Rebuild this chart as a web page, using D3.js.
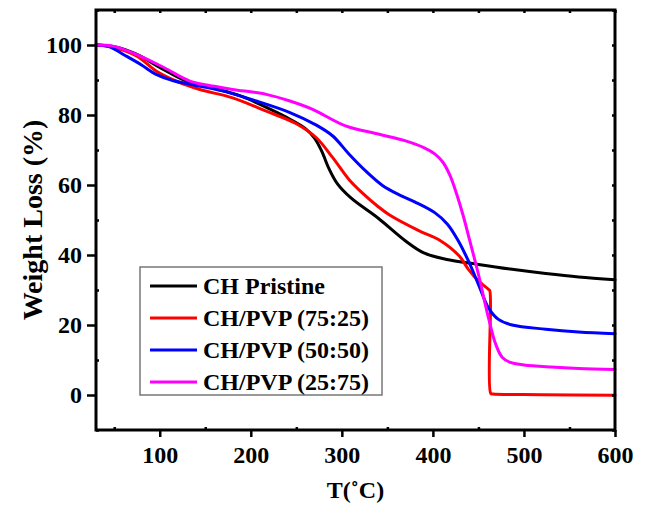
<!DOCTYPE html>
<html><head><meta charset="utf-8">
<script src="https://cdn.jsdelivr.net/npm/d3@7"></script>
<style>
html,body{margin:0;padding:0;background:#fff;}
svg{display:block;}
text{font-family:"Liberation Serif","Times New Roman",serif;font-weight:bold;fill:#000;}
</style></head>
<body>
<script>
// ---------- data ----------
const seriesNames = ["CH Pristine", "CH/PVP (75:25)", "CH/PVP (50:50)", "CH/PVP (25:75)"];
const seriesColors = ["#000000", "#ff0000", "#0000ff", "#ff00ff"];

const chT = [30, 50, 75, 100, 130, 160, 190, 220, 245, 260, 270, 278, 286, 295, 310, 340, 370, 390, 414, 450, 487, 524, 560, 600];
const chW = [100, 99.5, 97.3, 93.6, 89.6, 87.6, 85.3, 81.8, 78.5, 76.1, 73.4, 69.6, 64.6, 60.4, 56.3, 50.5, 44, 40.6, 38.8, 37.3, 35.9, 34.7, 33.7, 32.9];

const p7525T = [30, 50, 75, 96, 120, 144, 180, 217, 250, 272, 290, 308, 323, 339, 352, 385, 407, 429, 439, 450, 461, 462.5, 463.5, 466, 520, 600];
const p7525W = [100, 99.3, 96.8, 92.6, 89.5, 87.3, 84.9, 81.1, 77.5, 73.5, 67.8, 61.5, 57.6, 54, 51.5, 46.9, 44.3, 39.7, 35.9, 32.6, 30.2, 29.8, 0.5, 0.3, 0.1, -0.1];

const p5050T = [30, 45, 60, 80, 96, 115, 133, 169, 206, 243, 272, 290, 308, 327, 345, 363, 380, 402, 416, 428, 439, 450, 461, 472, 487, 524, 560, 600];
const p5050W = [100, 99.5, 97.3, 94.3, 91.6, 89.8, 88.8, 86.9, 84, 80.7, 77.1, 74, 68.8, 63.8, 59.8, 57.2, 55.2, 52.1, 48.8, 44, 38.3, 31.6, 24.9, 21.6, 20, 18.8, 18, 17.5];

const p2575T = [30, 50, 78, 105, 133, 160, 180, 217, 243, 268, 304, 341, 370, 390, 402, 411, 419, 426, 433, 441, 450, 461, 469, 476, 485, 500, 530, 560, 600];
const p2575W = [100, 99.6, 96.9, 93.5, 89.7, 88.2, 87.3, 85.9, 84, 81.6, 76.9, 74.5, 72.6, 70.7, 68.9, 66.5, 62.6, 57.5, 51.5, 43.6, 34.5, 22.1, 14.5, 10.8, 9.3, 8.6, 8.0, 7.6, 7.3];

const xMajorTicks = [100, 200, 300, 400, 500, 600];
const xMinorTicks = [50, 150, 250, 350, 450, 550];
const yMajorTicks = [0, 20, 40, 60, 80, 100];
const yMinorTicks = [-10, 10, 30, 50, 70, 90, 110];
const xTitle = "T(˚C)";
const yTitle = "Weight Loss (%)";

// ---------- chart ----------
const W = 648, H = 505;
const L = 96, R = 615, T = 10, B = 430;
const svg = d3.select("body").append("svg").attr("width", W).attr("height", H);

const x = d3.scaleLinear().domain([30, 600]).range([L, R]);
const y = d3.scaleLinear().domain([-10, 110]).range([B, T]);

const series = [
  {T: chT, W: chW}, {T: p7525T, W: p7525W}, {T: p5050T, W: p5050W}, {T: p2575T, W: p2575W}
];

const line = d3.line().x(d => x(d[0])).y(d => y(d[1])).curve(d3.curveCatmullRom.alpha(0.5));

const plot = svg.append("g");
series.forEach((s, i) => {
  const pts = s.T.map((t, k) => [t, s.W[k]]);
  plot.append("path").datum(pts)
    .attr("d", line).attr("fill", "none")
    .attr("stroke", seriesColors[i]).attr("stroke-width", 3)
    .attr("stroke-linejoin", "round").attr("stroke-linecap", "round");
});

// axes
function styleAxis(g) {
  g.select(".domain").remove();
  g.selectAll(".tick line").attr("stroke", "#000").attr("stroke-width", 2.5);
  g.selectAll(".tick text").style("font-size", "24px").style("font-family", "Liberation Serif").style("font-weight", "bold");
}
const gx = svg.append("g").attr("transform", `translate(0,${B})`)
  .call(d3.axisBottom(x).tickValues(xMajorTicks).tickSize(7).tickPadding(9).tickFormat(d3.format("d")));
styleAxis(gx);
const gxm = svg.append("g").attr("transform", `translate(0,${B})`)
  .call(d3.axisBottom(x).tickValues(xMinorTicks).tickSize(-3).tickFormat(""));
styleAxis(gxm);
const gxt = svg.append("g").attr("transform", `translate(0,${T})`)
  .call(d3.axisTop(x).tickValues(xMajorTicks.concat(xMinorTicks)).tickSize(-3).tickFormat(""));
styleAxis(gxt);

const gy = svg.append("g").attr("transform", `translate(${L},0)`)
  .call(d3.axisLeft(y).tickValues(yMajorTicks).tickSize(9).tickPadding(5).tickFormat(d3.format("d")));
styleAxis(gy);
const gym = svg.append("g").attr("transform", `translate(${L},0)`)
  .call(d3.axisLeft(y).tickValues(yMinorTicks).tickSize(-3).tickFormat(""));
styleAxis(gym);
const gyr = svg.append("g").attr("transform", `translate(${R},0)`)
  .call(d3.axisRight(y).tickValues(yMajorTicks.concat(yMinorTicks)).tickSize(-3).tickFormat(""));
styleAxis(gyr);

// frame
svg.append("rect").attr("x", L).attr("y", T).attr("width", R - L).attr("height", B - T)
  .attr("fill", "none").attr("stroke", "#000").attr("stroke-width", 3);

// titles
svg.append("text").attr("x", (L + R) / 2).attr("y", 498).attr("text-anchor", "middle")
  .style("font-size", "24px").text(xTitle);
svg.append("text").attr("transform", `translate(42,${(T + B) / 2}) rotate(-90)`)
  .attr("text-anchor", "middle").style("font-size", "28px").text(yTitle);

// legend
const lg = svg.append("g");
lg.append("rect").attr("x", 140).attr("y", 267).attr("width", 242).attr("height", 128)
  .attr("fill", "#fff").attr("stroke", "#777").attr("stroke-width", 1.5);
const rowY = d3.scalePoint().domain(seriesNames).range([286, 382]);
seriesNames.forEach((n, i) => {
  const yy = rowY(n);
  lg.append("line").attr("x1", 150).attr("x2", 197).attr("y1", yy).attr("y2", yy)
    .attr("stroke", seriesColors[i]).attr("stroke-width", 3);
  lg.append("text").attr("x", 203).attr("y", yy).attr("dy", "0.33em")
    .style("font-size", "24px").text(n);
});
</script>
</body></html>
